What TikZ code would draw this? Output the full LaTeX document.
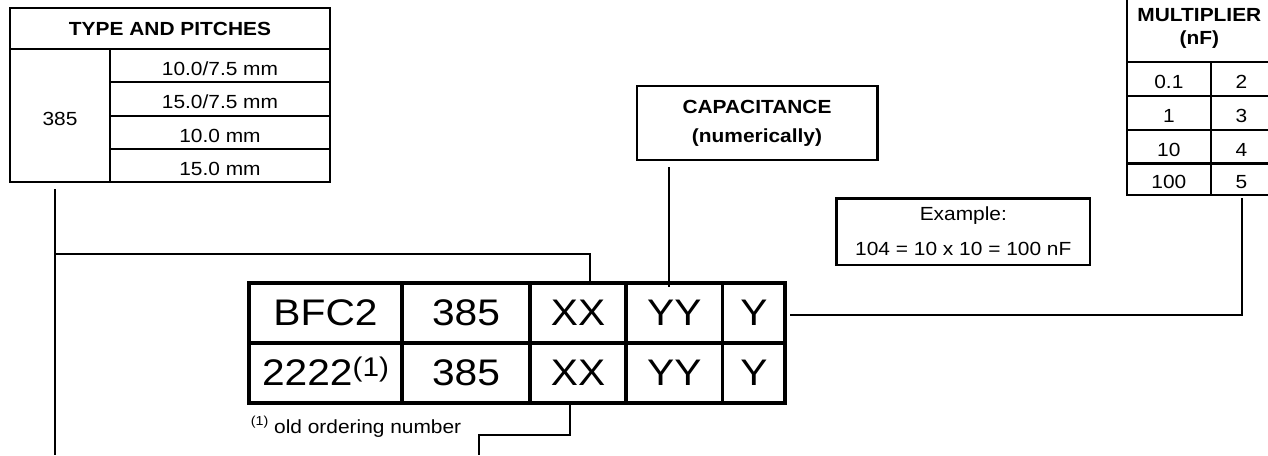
\documentclass[tikz,border=0pt]{standalone}
\usepackage{fontspec}
\setmainfont{Liberation Sans}[FakeStretch=1.1]
\begin{document}
\begin{tikzpicture}[x=1pt,y=-1pt,
  box/.style={draw, line width=2.4pt, inner sep=0pt, font=\fontsize{19}{19}\selectfont},
  hd/.style={box, font=\bfseries\fontsize{19}{19}\selectfont},
  lowtxt/.style={text height=19pt, text depth=0pt},
  tcell/.style={draw, line width=3.3pt, inner sep=0pt, minimum height=60pt,
    text height=24pt, text depth=0pt, font=\fontsize{37}{37}\selectfont},
  conn/.style={line width=2pt}]
\useasboundingbox (0,0) rectangle (1268,455);
\clip (0,0) rectangle (1268,455);

% TYPE AND PITCHES
\node[hd, minimum width=320pt, minimum height=41pt] (tph) at (170,28.5) {TYPE AND PITCHES};
\node[box, lowtxt, minimum width=100pt, minimum height=133pt] (tp385) at (60,115.5) {385};
\node[box, lowtxt, minimum width=220pt, minimum height=33pt] (tpa) at (220,65.5) {10.0/7.5 mm};
\node[box, lowtxt, minimum width=220pt, minimum height=34pt] (tpb) at (220,99) {15.0/7.5 mm};
\node[box, lowtxt, minimum width=220pt, minimum height=33pt] (tpc) at (220,132.5) {10.0 mm};
\node[box, lowtxt, minimum width=220pt, minimum height=33pt] (tpd) at (220,165.5) {15.0 mm};

% CAPACITANCE
\node[hd, minimum width=240.6pt, minimum height=74pt, align=center,
  font=\bfseries\fontsize{19}{29}\selectfont] (cap) at (757,123) {CAPACITANCE\\(numerically)};

% Example
\node[box, minimum width=253.3pt, minimum height=66.7pt, align=center,
  font=\fontsize{19}{35}\selectfont] (ex) at (963.3,231.7) {Example:\\104 = 10 x 10 = 100 nF};

% MULTIPLIER
\node[hd, minimum width=145.3pt, minimum height=66.7pt, align=center,
  font=\bfseries\fontsize{19}{23}\selectfont] (mh) at (1199.35,28.35) {MULTIPLIER\\(nF)};
\node[box, lowtxt, minimum width=84.3pt, minimum height=34.3pt] (m2a) at (1168.85,78.85) {0.1};
\node[box, lowtxt, minimum width=61pt, minimum height=34.3pt] (m2b) at (1241.5,78.85) {2};
\node[box, lowtxt, minimum width=84.3pt, minimum height=34pt] (m3a) at (1168.85,113) {1};
\node[box, lowtxt, minimum width=61pt, minimum height=34pt] (m3b) at (1241.5,113) {3};
\node[box, lowtxt, minimum width=84.3pt, minimum height=33.3pt] (m4a) at (1168.85,146.65) {10};
\node[box, lowtxt, minimum width=61pt, minimum height=33.3pt] (m4b) at (1241.5,146.65) {4};
\node[box, lowtxt, minimum width=84.3pt, minimum height=31.7pt] (m5a) at (1168.85,179.15) {100};
\node[box, lowtxt, minimum width=61pt, minimum height=31.7pt] (m5b) at (1241.5,179.15) {5};

% Ordering code table
\node[tcell, minimum width=153pt] (c1) at (325.5,313) {BFC2};
\node[tcell, minimum width=128pt] (c2) at (466,313) {385};
\node[tcell, minimum width=96pt] (c3) at (578,313) {XX};
\node[tcell, minimum width=96.7pt] (c4) at (674.35,313) {YY};
\node[tcell, minimum width=62.3pt] (c5) at (753.85,313) {Y};
\node[tcell, minimum width=153pt] (d1) at (325.5,373) {2222\raisebox{9pt}{\fontsize{27}{27}\selectfont(1)}};
\node[tcell, minimum width=128pt] (d2) at (466,373) {385};
\node[tcell, minimum width=96pt] (d3) at (578,373) {XX};
\node[tcell, minimum width=96.7pt] (d4) at (674.35,373) {YY};
\node[tcell, minimum width=62.3pt] (d5) at (753.85,373) {Y};

% footnote
\node[anchor=base west, inner sep=0pt, font=\fontsize{19}{19}\selectfont] (fn) at (250.7,433.3)
  {\raisebox{8pt}{\fontsize{13}{13}\selectfont(1)} old ordering number};

% connectors
\coordinate (t1) at (55,189);
\coordinate (t2) at (55,455);
\coordinate (j1) at (55,254);
\draw[conn] (t1) -- (t2);
\draw[conn] (j1) -| ([xshift=12pt]c3.north);
\draw[conn] ([xshift=-88pt,yshift=-6pt]cap.south) -- ([xshift=-88pt,yshift=-6pt]cap.south |- c4.north);
\draw[conn] ([yshift=-2pt]m5b.south) |- ([xshift=3pt,yshift=-2pt]c5.east);
\coordinate (b2) at (479,435);
\coordinate (b3) at (479,455);
\draw[conn] ([xshift=-8pt]d3.south) |- (b2) -- (b3);
\end{tikzpicture}
\end{document}
